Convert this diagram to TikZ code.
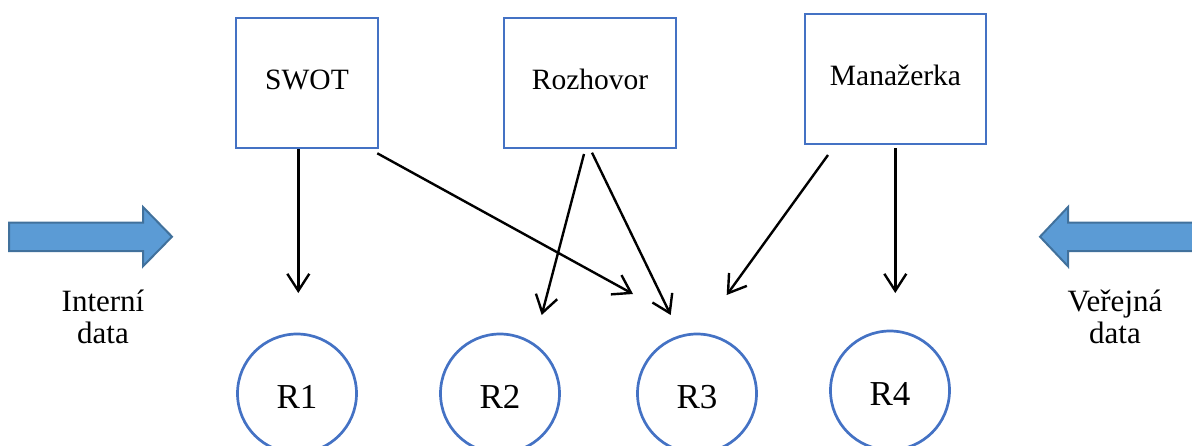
\documentclass[tikz,border=0pt]{standalone}
\usepackage{fontspec}
\setmainfont{Liberation Serif}
\usetikzlibrary{arrows.meta}
\definecolor{boxblue}{HTML}{4472C4}
\definecolor{arrowfill}{HTML}{5B9BD5}
\definecolor{arrowedge}{HTML}{41719C}
\begin{document}
\begin{tikzpicture}[x=1pt,y=-1pt,
  lbl/.style={font=\fontsize{29.5}{33}\selectfont},
  sidelbl/.style={font=\fontsize{31}{32}\selectfont, align=center, anchor=base},
  srcbox/.style={rectangle, draw=boxblue, line width=2.7pt, lbl,
    text height=20pt, text depth=7pt, inner sep=0pt, minimum height=130pt},
  result/.style={circle, draw=boxblue, line width=2.7pt,
    font=\fontsize{35}{40}\selectfont,
    text height=30pt, text depth=0pt, inner sep=0pt, minimum size=119pt},
  conn/.style={line width=2.4pt, -{Straight Barb[length=17pt,width=22pt]}},
  blockarrow/.style={fill=arrowfill, draw=arrowedge, line width=2pt, line join=miter}]

\useasboundingbox (0,0) rectangle (1192,445);
\clip (0,0) rectangle (1192,445);

% data sources
\node[srcbox, minimum width=142pt] (swot) at (307,83) {SWOT};
\node[srcbox, minimum width=172pt] (rozh) at (590,83) {Rozhovor};
\node[srcbox, minimum width=181pt] (manz) at (895.5,79) {Manažerka};

% results
\node[result] (r1) at (297,393.5) {R1};
\node[result] (r2) at (500,393.5) {R2};
\node[result] (r3) at (697,393.5) {R3};
\node[result] (r4) at (890,390.5) {R4};

% side inputs
\draw[blockarrow] (9,222.7) -- (143,222.7) -- (143,207) -- (172,236.7)
  -- (143,266.3) -- (143,251) -- (9,251) -- cycle;
\draw[blockarrow] (1200,222.7) -- (1068,222.7) -- (1068,207) -- (1040,236.7)
  -- (1068,266.3) -- (1068,251) -- (1200,251) -- cycle;
\node[sidelbl] (intern) at (103,343) {Interní\\data};
\node[sidelbl] (verej) at (1115,343) {Veřejná\\data};

% connector end points
\coordinate (s1) at (298.3,149);   \coordinate (t1) at (298.3,293);
\coordinate (s2) at (377.3,153.3); \coordinate (t2) at (633,294);
\coordinate (s3) at (584,154);     \coordinate (t3) at (541.7,315);
\coordinate (s4) at (592,152.7);   \coordinate (t4) at (670.7,315);
\coordinate (s5) at (828,155);     \coordinate (t5) at (726.7,295);
\coordinate (s6) at (895.3,148);   \coordinate (t6) at (895.3,293);

\draw[conn] (s1) -- (t1);
\draw[conn] (s2) -- (t2);
\draw[conn] (s3) -- (t3);
\draw[conn] (s4) -- (t4);
\draw[conn] (s5) -- (t5);
\draw[conn] (s6) -- (t6);
\end{tikzpicture}
\end{document}
